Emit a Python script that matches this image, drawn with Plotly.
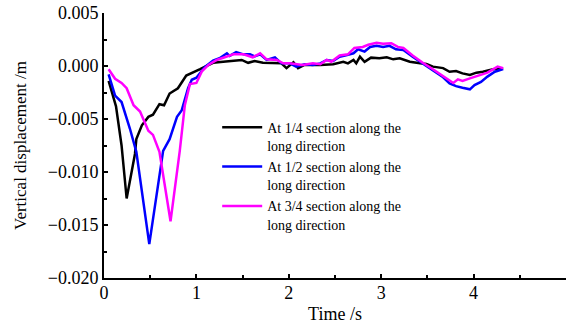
import plotly.graph_objects as go

# Vertical displacement time histories at three sections along the long direction
t_quarter = [0.05, 0.13, 0.19, 0.245, 0.335, 0.35, 0.41, 0.48, 0.53, 0.60, 0.65, 0.71, 0.80, 0.89,
             1.04, 1.18, 1.29, 1.42, 1.49, 1.56, 1.63, 1.72, 1.85, 1.92, 1.975, 2.05, 2.10, 2.17,
             2.34, 2.48, 2.59, 2.64, 2.70, 2.73, 2.77, 2.82, 2.89, 2.98, 3.06, 3.13, 3.20, 3.31,
             3.42, 3.49, 3.56, 3.67, 3.74, 3.81, 3.88, 3.96, 4.03, 4.10, 4.21, 4.32]
d_quarter = [-0.0014, -0.0038, -0.0075, -0.0125, -0.0083, -0.0069, -0.0056, -0.0048, -0.0046,
             -0.0036, -0.0037, -0.0026, -0.0021, -0.0009, -0.0003, 0.0003, 0.0004, 0.00047,
             0.00057, 0.0003, 0.00047, 0.0003, 0.00025, 0.00025, -0.0002, 0.00035, -0.0002,
             0.0001, 0.0001, 0.00016, 0.0004, 0.00025, 0.00057, 0.00025, 0.00088, 0.0004,
             0.00079, 0.00073, 0.00082, 0.00063, 0.00073, 0.0004, 0.00025, 0.0002, -0.00006,
             -0.0002, -0.00054, -0.00047, -0.0007, -0.00085, -0.00063, -0.00054, -0.00031, -0.0002]

t_half = [0.05, 0.12, 0.19, 0.28, 0.35, 0.49, 0.64, 0.71, 0.79, 0.84, 0.91, 0.95, 1.00, 1.09,
          1.18, 1.25, 1.33, 1.36, 1.43, 1.51, 1.58, 1.63, 1.69, 1.76, 1.85, 1.92, 2.01, 2.08,
          2.17, 2.26, 2.34, 2.41, 2.48, 2.55, 2.62, 2.70, 2.75, 2.82, 2.88, 2.95, 3.02, 3.09,
          3.16, 3.24, 3.34, 3.45, 3.56, 3.67, 3.74, 3.81, 3.88, 3.96, 4.01, 4.08, 4.15, 4.23, 4.32]
d_half = [-0.0008, -0.0028, -0.0034, -0.0059, -0.0081, -0.0168, -0.0080, -0.0069, -0.0048,
          -0.0042, -0.0021, -0.0013, -0.0011, -0.0001, 0.0005, 0.00073, 0.0012, 0.00095, 0.0013,
          0.0011, 0.0011, 0.0009, 0.0011, 0.00057, 0.00082, 0.00025, 0.00025, -0.00006, 0.00016,
          0.0001, 0.00025, 0.00057, 0.00047, 0.00088, 0.001, 0.0012, 0.00158, 0.00136, 0.0018,
          0.0019, 0.0018, 0.0019, 0.00158, 0.0015, 0.00088, 0.00025, -0.0004, -0.00107,
          -0.00164, -0.0019, -0.00205, -0.0022, -0.0018, -0.0015, -0.001, -0.00054, -0.00028]

t_three = [0.05, 0.12, 0.19, 0.245, 0.32, 0.39, 0.48, 0.53, 0.60, 0.72, 0.82, 0.875, 0.93, 1.00,
           1.06, 1.13, 1.22, 1.31, 1.40, 1.51, 1.61, 1.69, 1.76, 1.87, 1.94, 2.01, 2.15, 2.26,
           2.34, 2.41, 2.46, 2.55, 2.64, 2.71, 2.80, 2.86, 2.95, 3.02, 3.11, 3.18, 3.24, 3.34,
           3.45, 3.56, 3.67, 3.72, 3.78, 3.83, 3.88, 3.96, 4.06, 4.15, 4.26, 4.32]
d_three = [-0.0003, -0.0012, -0.0016, -0.0021, -0.0037, -0.0043, -0.0061, -0.0065, -0.0081,
           -0.01465, -0.0080, -0.0037, -0.0017, -0.0016, -0.0005, 0.0001, 0.00057, 0.00082,
           0.0011, 0.0011, 0.00082, 0.0012, 0.00063, 0.00057, 0.00025, 0.00025, 0.0001, 0.00025,
           0.00016, 0.00057, 0.0004, 0.001, 0.0011, 0.0017, 0.0018, 0.002, 0.0022, 0.0021,
           0.00215, 0.0018, 0.0017, 0.001, 0.0003, -0.0003, -0.00095, -0.0012, -0.0016,
           -0.00126, -0.0014, -0.00117, -0.00085, -0.00063, -0.00006, -0.0002]

names = ["At 1/4 section along the<br>long direction",
         "At 1/2 section along the<br>long direction",
         "At 3/4 section along the<br>long direction"]
colors = ["#000000", "#0000ff", "#ff00ff"]

FONT = "Liberation Serif"

fig = go.Figure()
for t, d, name, c in zip([t_quarter, t_half, t_three], [d_quarter, d_half, d_three], names, colors):
    fig.add_trace(go.Scatter(x=t, y=d, mode="lines", name=name,
                             line=dict(color=c, width=2.5)))

axis_common = dict(
    showline=True, linecolor="black", linewidth=2, mirror=False,
    ticks="inside", ticklen=4, tickwidth=2, tickcolor="black",
    showgrid=False, zeroline=False,
    tickfont=dict(family=FONT, size=18, color="black"),
)

fig.update_xaxes(
    range=[0, 5], tick0=0, dtick=1, ticklabelstandoff=-3,
    minor=dict(dtick=0.5, ticks="inside", ticklen=3, tickwidth=2, tickcolor="black"),
    title=dict(text="Time /s", font=dict(family=FONT, size=18, color="black"), standoff=6),
    **axis_common,
)
fig.update_yaxes(
    range=[-0.02, 0.005], tick0=0, dtick=0.005, tickformat=".3f",
    minor=dict(dtick=0.0025, ticks="inside", ticklen=3, tickwidth=2, tickcolor="black"),
    title=dict(text="Vertical displacement /m", font=dict(family=FONT, size=17, color="black"),
               standoff=17),
    **axis_common,
)

fig.update_layout(
    width=566, height=329,
    margin=dict(l=104, r=0, t=13, b=51),
    paper_bgcolor="white", plot_bgcolor="white",
    showlegend=True,
    legend=dict(x=0.245, y=0.628, xanchor="left", yanchor="top", itemwidth=40,
                bgcolor="rgba(0,0,0,0)", valign="top", tracegroupgap=0,
                font=dict(family=FONT, size=14, color="black")),
)

fig.write_html("out.html")
